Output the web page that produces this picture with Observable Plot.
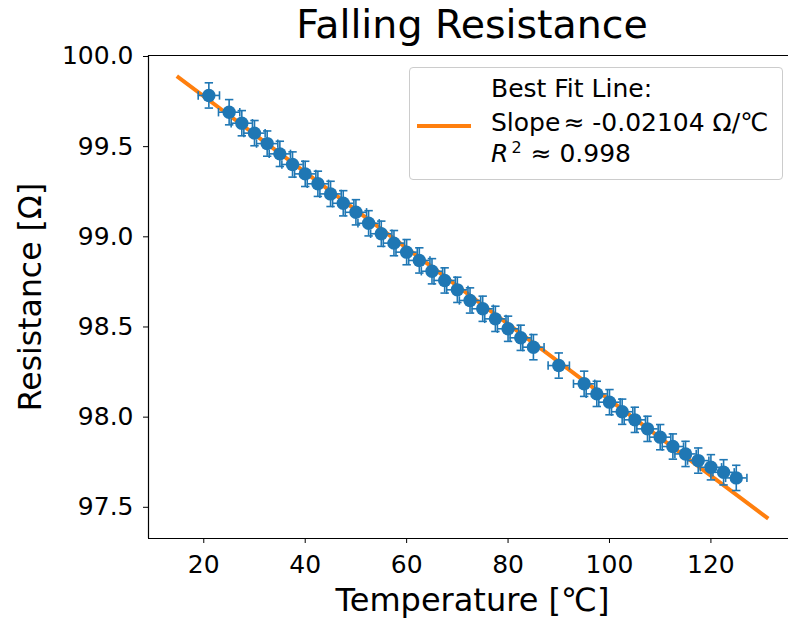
<!DOCTYPE html>
<html><head><meta charset="utf-8">
<script src="https://cdn.jsdelivr.net/npm/d3@7"></script>
<script src="https://cdn.jsdelivr.net/npm/@observablehq/plot@0.6"></script>
<style>
body{margin:0;background:#fff;font-family:"DejaVu Sans",sans-serif;}
#wrap{position:relative;width:788px;height:618px;overflow:hidden;background:#fff;}
#title{position:absolute;left:172px;width:600px;text-align:center;top:1px;font-size:39.5px;color:#000;line-height:46px;}
#legend{position:absolute;left:409px;top:67px;width:374px;height:113px;box-sizing:border-box;border:1px solid #cccccc;border-radius:4px;background:rgba(255,255,255,0.8);font-size:25px;color:#000;}
#legend .sw{position:absolute;left:7px;top:56px;width:54px;height:4px;background:#ff7f0e;}
#legend .ln{position:absolute;left:81px;line-height:25px;white-space:nowrap;}
#legend .sup{font-size:16px;line-height:16px;display:inline-block;vertical-align:top;margin-top:-1px;margin-left:3px;margin-right:1px;}
#chart{position:absolute;left:0;top:0;}
</style></head>
<body>
<div id="wrap">
  <div id="chart"></div>
  <div id="title">Falling Resistance</div>
  <div id="legend"><div class="sw"></div>
    <div class="ln" style="top:8px">Best Fit Line:</div>
    <div class="ln" style="top:42px">Slope<span style="margin-left:3px">≈</span> -0.02104 Ω/℃</div>
    <div class="ln" style="top:73px"><i>R</i><span class="sup">2</span> ≈ 0.998</div>
  </div>
</div>
<script>
// Data
const temps = [21, 25, 27.5, 30, 32.5, 35, 37.5, 40, 42.5, 45, 47.5, 50, 52.5, 55, 57.5, 60, 62.5, 65, 67.5, 70, 72.5, 75, 77.5, 80, 82.5, 85, 90, 95, 97.5, 100, 102.5, 105, 107.5, 110, 112.5, 115, 117.5, 120, 122.5, 125];
const resist = [99.784, 99.691, 99.630, 99.575, 99.517, 99.460, 99.401, 99.349, 99.294, 99.238, 99.186, 99.136, 99.075, 99.017, 98.965, 98.915, 98.869, 98.809, 98.758, 98.706, 98.647, 98.601, 98.545, 98.490, 98.440, 98.388, 98.286, 98.185, 98.129, 98.083, 98.030, 97.985, 97.935, 97.889, 97.837, 97.796, 97.759, 97.722, 97.694, 97.663];
const tempErr = 2.1;
const resErr = 0.07;
const fitSlope = -0.02104;
const fitIntercept = 100.200;
const fitRange = [15, 131];
const xTicks = [20, 40, 60, 80, 100, 120];
const yTicks = [97.5, 98.0, 98.5, 99.0, 99.5, 100.0];
const xDomain = [9.1, 135.3];
const yDomain = [97.327, 100.0055];

const data = temps.map((t, i) => ({t, r: resist[i]}));
const fit = fitRange.map(t => ({t, r: fitIntercept + fitSlope * t}));

const blue = "#1f77b4", orange = "#ff7f0e";
const hCap = {draw(ctx, size){ const r = Math.sqrt(size/Math.PI); ctx.moveTo(-r,0); ctx.lineTo(r,0);} };
const vCap = {draw(ctx, size){ const r = Math.sqrt(size/Math.PI); ctx.moveTo(0,-r); ctx.lineTo(0,r);} };
const capR = 4.2;

const chart = Plot.plot({
  width: 788, height: 618,
  marginLeft: 148, marginRight: 0, marginTop: 55, marginBottom: 80,
  style: {fontFamily: "DejaVu Sans", fontSize: "25px", color: "#000", background: "transparent", overflow: "visible"},
  x: {domain: xDomain, ticks: xTicks, tickSize: 5, tickPadding: 12, label: null},
  y: {domain: yDomain, ticks: yTicks, tickFormat: d3.format(".1f"), tickSize: 5, tickPadding: 10, label: null},
  marks: [
    Plot.line(fit, {x: "t", y: "r", stroke: orange, strokeWidth: 4, strokeLinecap: "square"}),
    Plot.ruleY(data, {y: "r", x1: d => d.t - tempErr, x2: d => d.t + tempErr, stroke: blue, strokeWidth: 1.6}),
    Plot.ruleX(data, {x: "t", y1: d => d.r - resErr, y2: d => d.r + resErr, stroke: blue, strokeWidth: 1.6}),
    Plot.dot(data, {x: d => d.t - tempErr, y: "r", symbol: vCap, r: capR, stroke: blue, strokeWidth: 1.6, fill: "none"}),
    Plot.dot(data, {x: d => d.t + tempErr, y: "r", symbol: vCap, r: capR, stroke: blue, strokeWidth: 1.6, fill: "none"}),
    Plot.dot(data, {x: "t", y: d => d.r - resErr, symbol: hCap, r: capR, stroke: blue, strokeWidth: 1.6, fill: "none"}),
    Plot.dot(data, {x: "t", y: d => d.r + resErr, symbol: hCap, r: capR, stroke: blue, strokeWidth: 1.6, fill: "none"}),
    Plot.dot(data, {x: "t", y: "r", r: 6.7, fill: blue, stroke: "none"}),
    Plot.ruleX([xDomain[0]], {stroke: "#000", strokeWidth: 1.2}),
    Plot.ruleY([yDomain[0], yDomain[1]], {stroke: "#000", strokeWidth: 1.2}),
    Plot.text(["Resistance [Ω]"], {frameAnchor: "left", rotate: -90, dx: -118, fontSize: 31.5, fill: "#000", textAnchor: "middle", lineAnchor: "middle"}),
    Plot.text(["Temperature [℃]"], {frameAnchor: "bottom", dx: 4, dy: 62, fontSize: 32, fill: "#000", textAnchor: "middle", lineAnchor: "middle"})
  ]
});
document.getElementById("chart").appendChild(chart);
</script>
</body></html>
